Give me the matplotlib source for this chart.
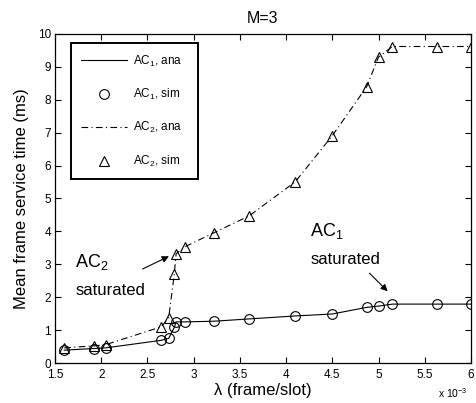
import matplotlib
matplotlib.use("Agg")
import matplotlib.pyplot as plt
from matplotlib.ticker import FuncFormatter, MultipleLocator

plt.rcParams['font.family'] = ['Liberation Sans', 'DejaVu Sans']
plt.rcParams['mathtext.fontset'] = 'custom'
plt.rcParams['mathtext.rm'] = 'Liberation Sans'
plt.rcParams['mathtext.it'] = 'Liberation Sans'
plt.rcParams['mathtext.bf'] = 'Liberation Sans:bold'

# Arrival rate (frame/slot)
lam = [1.60e-3, 1.92e-3, 2.05e-3, 2.65e-3, 2.73e-3, 2.79e-3, 2.81e-3, 2.91e-3,
       3.22e-3, 3.60e-3, 4.10e-3, 4.50e-3, 4.87e-3, 5.00e-3, 5.15e-3, 5.63e-3, 6.00e-3]

# Mean frame service time (ms)
ac1_time = [0.39, 0.44, 0.46, 0.69, 0.75, 1.08, 1.25, 1.25,
            1.27, 1.34, 1.43, 1.49, 1.69, 1.73, 1.79, 1.79, 1.79]
ac2_time = [0.46, 0.52, 0.56, 1.10, 1.38, 2.69, 3.32, 3.54,
            3.96, 4.47, 5.51, 6.91, 8.39, 9.30, 9.62, 9.62, 9.62]

legend_labels = ["AC$_1$, ana", "AC$_1$, sim", "AC$_2$, ana", "AC$_2$, sim"]

W, H = 477, 403
fig = plt.figure(figsize=(W / 100, H / 100), dpi=100)
ax = fig.add_axes([55 / W, 1 - 363 / H, 416 / W, 329 / H])

ax.plot(lam, ac1_time, color='k', lw=0.8, ls='-', label=legend_labels[0])
ax.plot(lam, ac1_time, ls='none', marker='o', ms=7, mfc='none', mec='k', mew=0.8,
        label=legend_labels[1])
ax.plot(lam, ac2_time, color='k', lw=0.8, ls=(0, (6, 3, 1, 3)), label=legend_labels[2])
ax.plot(lam, ac2_time, ls='none', marker='^', ms=7.2, mfc='none', mec='k', mew=0.8,
        label=legend_labels[3])

ax.set_xlim(1.5e-3, 6e-3)
ax.set_ylim(0, 10)
ax.xaxis.set_major_locator(MultipleLocator(0.5e-3))
ax.yaxis.set_major_locator(MultipleLocator(1))
ax.xaxis.set_major_formatter(FuncFormatter(lambda v, p: f"{v * 1e3:g}"))
ax.tick_params(direction='in', top=True, right=True, length=4, width=0.8,
               labelsize=8.5)
ax.tick_params(axis='x', pad=4.5)
ax.tick_params(axis='y', pad=3)
for s in ax.spines.values():
    s.set_linewidth(0.9)

ax.set_title("M=3", fontsize=11.5, pad=8)
ax.set_xlabel("λ (frame/slot)", fontsize=12, labelpad=1)
ax.set_ylabel("Mean frame service time (ms)", fontsize=12, labelpad=6)
fig.text(438 / W, 1 - 398 / H, "x 10$^{-3}$", fontsize=7.5, ha='left', va='baseline')

leg = ax.legend(loc='upper left', bbox_to_anchor=(0.038, 0.578, 0.306, 0.395),
                mode='expand', fontsize=8.5, handlelength=3.9, handletextpad=0.5,
                labelspacing=1.55, borderpad=0.9, fancybox=False, framealpha=1,
                edgecolor='k', borderaxespad=0)
leg.get_frame().set_linewidth(1.4)

# Saturation annotations
ax.text(1.72e-3, 2.91, "AC$_2$", fontsize=13, ha='left', va='baseline')
ax.text(1.72e-3, 2.06, "saturated", fontsize=12, ha='left', va='baseline')
ax.annotate("", xy=(2.76e-3, 3.28), xytext=(2.42e-3, 2.82),
            arrowprops=dict(arrowstyle='-|>', color='k', lw=0.8, mutation_scale=10))

ax.text(4.26e-3, 3.86, "AC$_1$", fontsize=13, ha='left', va='baseline')
ax.text(4.26e-3, 3.0, "saturated", fontsize=12, ha='left', va='baseline')
ax.annotate("", xy=(5.12e-3, 2.12), xytext=(4.88e-3, 2.79),
            arrowprops=dict(arrowstyle='-|>', color='k', lw=0.8, mutation_scale=10))

fig.savefig("out.png", dpi=100)
